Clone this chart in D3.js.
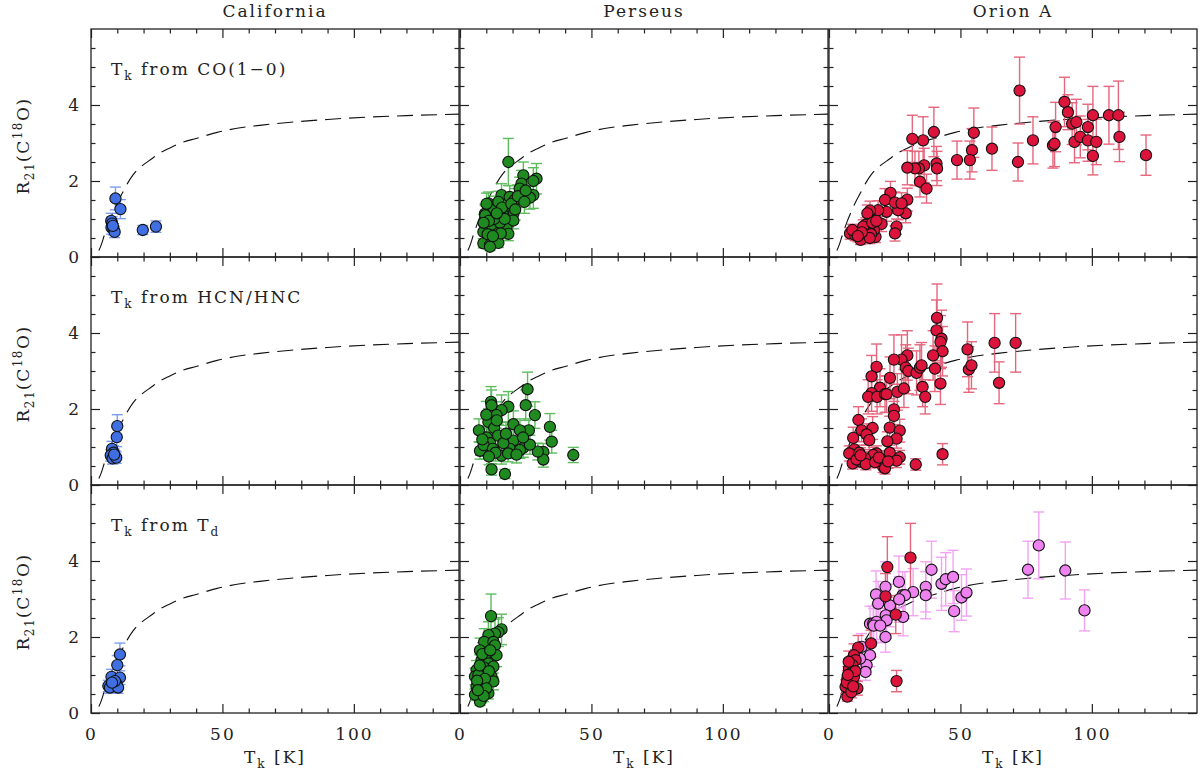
<!DOCTYPE html>
<html>
<head>
<meta charset="utf-8">
<script src="https://cdn.jsdelivr.net/npm/d3@7"></script>
<style>
  body { margin: 0; background: #fff; }
  text { font-family: "DejaVu Serif", serif; fill: #222; }
</style>
</head>
<body>
<svg width="1200" height="773"></svg>
<script>
// columns / rows
const clouds = ['California', 'Perseus', 'Orion A']
const methods = [['CO(1\u22120)'], ['HCN/HNC'], ['T', 'd']]

// model curve
const modelT = [3, 4, 5, 6, 7, 8, 9, 10, 12, 14, 16, 18, 20, 23, 26, 30, 35, 40, 48, 55, 65, 75, 90, 105, 120, 140]
const modelR = [0.17, 0.34, 0.56, 0.76, 0.95, 1.12, 1.29, 1.43, 1.69, 1.95, 2.16, 2.32, 2.43, 2.58, 2.73, 2.87, 3.02, 3.12, 3.28, 3.38, 3.47, 3.54, 3.62, 3.68, 3.72, 3.76]

// [Tk, R21, err]
const caliCO = [[9.3,1.54,0.30],[11.2,1.26,0.25],[7.7,0.95,0.20],[8.0,0.88,0.18],[7.8,0.78,0.18],[8.6,0.73,0.15],[9.0,0.66,0.15],[8.3,0.82,0.15],[19.7,0.71,0.12],[24.7,0.80,0.15]]
const caliHCN = [[10.0,1.55,0.30],[9.8,1.26,0.25],[8.0,0.95,0.20],[8.6,0.85,0.18],[7.5,0.78,0.15],[9.2,0.75,0.15],[8.2,0.70,0.15],[9.6,0.72,0.15],[8.8,0.80,0.15]]
const caliTd = [[11.0,1.54,0.30],[10.0,1.26,0.25],[7.8,0.95,0.20],[11.0,0.93,0.18],[6.6,0.71,0.15],[7.2,0.67,0.15],[9.7,0.77,0.15],[10.3,0.67,0.15],[9.1,0.84,0.15],[8.0,0.80,0.15]]

const perCO = [[18.4,2.50,0.62],[24.1,2.15,0.35],[29.1,2.06,0.40],[27.9,2.00,0.35],[23.4,1.93,0.35],[22.7,1.80,0.30],[27.9,1.63,0.35],[26.6,1.56,0.30],[15.8,1.63,0.30],[18.9,1.58,0.30],
  [20.8,1.50,0.30],[10.8,1.41,0.30],[13.3,1.32,0.28],[17.1,1.23,0.25],[20.3,1.14,0.25],[9.5,1.14,0.25],[12.0,1.05,0.22],[14.6,0.96,0.22],[17.7,0.79,0.20],[10.1,0.79,0.20],
  [13.3,0.70,0.18],[8.9,0.66,0.18],[13.9,0.44,0.15],[8.9,0.36,0.12],[11.4,0.32,0.12],[18.4,0.61,0.18],[16.5,1.10,0.25],[20.3,0.96,0.22],[12.7,1.23,0.25],[14.6,1.45,0.28],
  [10.1,1.40,0.28],[9.6,1.10,0.25],[14.6,0.37,0.12],[11.4,0.27,0.10],[12.0,0.85,0.20],[15.2,0.90,0.22],[13.0,1.00,0.22],[11.0,0.95,0.22],[16.0,1.30,0.28],[19.5,1.40,0.30],
  [22.0,1.60,0.30],[25.0,1.75,0.32],[21.0,1.25,0.28],[24.5,1.45,0.30],[10.5,0.60,0.18],[15.5,0.62,0.18],[12.5,0.55,0.15],[9.0,0.90,0.22],[17.0,1.00,0.22],[14.0,1.15,0.25]]
const perHCN = [[25.7,2.52,0.45],[25.0,2.10,0.40],[28.5,1.84,0.35],[34.2,1.53,0.35],[34.9,1.14,0.30],[43.1,0.79,0.20],[31.7,0.87,0.22],[31.7,0.67,0.20],[29.6,0.88,0.22],[26.2,1.44,0.30],
  [20.3,1.60,0.35],[18.4,2.06,0.40],[15.8,1.97,0.40],[11.8,2.19,0.40],[12.0,2.10,0.40],[13.9,1.84,0.35],[7.2,1.44,0.30],[10.8,1.66,0.35],[10.2,1.25,0.30],[12.0,0.41,0.15],
  [17.1,0.29,0.12],[22.8,1.44,0.30],[20.3,1.17,0.28],[24.1,0.98,0.25],[19.0,0.95,0.25],[15.8,0.77,0.22],[9.5,0.90,0.22],[7.6,0.90,0.22],[18.3,0.83,0.22],[26.6,1.06,0.25],
  [22.8,0.92,0.22],[13.0,1.50,0.30],[14.5,1.30,0.30],[11.5,1.10,0.28],[9.0,1.05,0.25],[16.5,1.10,0.28],[12.5,0.95,0.25],[14.0,1.70,0.35],[10.0,1.85,0.35],[17.5,1.35,0.30],
  [8.5,1.20,0.28],[13.5,0.85,0.22],[11.0,0.75,0.22],[21.5,0.80,0.22],[24.0,1.25,0.30]]
const perTd = [[11.8,2.55,0.58],[15.8,2.20,0.40],[14.6,2.13,0.38],[13.3,2.09,0.38],[10.8,2.05,0.35],[9.2,1.87,0.35],[12.7,1.87,0.35],[13.3,1.78,0.35],[7.6,1.65,0.32],[10.1,1.57,0.32],
  [13.9,1.52,0.30],[8.2,1.39,0.30],[10.8,1.30,0.28],[12.7,1.22,0.28],[6.3,1.13,0.25],[9.5,1.04,0.25],[12.0,0.96,0.25],[5.7,0.96,0.22],[7.6,0.87,0.22],[10.1,0.79,0.20],
  [12.7,0.83,0.22],[6.3,0.70,0.18],[8.9,0.61,0.18],[7.0,0.52,0.15],[8.2,0.39,0.12],[7.6,0.30,0.10],[5.7,0.48,0.15],[10.8,0.52,0.15],[9.0,1.20,0.28],[7.0,1.00,0.25],
  [11.0,1.10,0.28],[8.0,0.75,0.20],[9.5,0.90,0.22],[6.5,0.85,0.20],[8.5,1.55,0.30],[11.5,1.65,0.32],[7.5,1.25,0.28],[10.0,0.65,0.18],[9.0,0.45,0.15],[6.8,0.60,0.18]]

const oriCO = [[72.5,4.38,0.88],[89.6,4.08,0.65],[90.9,3.81,0.46],[92.5,3.51,0.55],[94.1,3.55,0.60],[98.5,3.42,0.60],[100.4,3.73,0.76],[106.5,3.73,0.76],[110.1,3.73,0.90],[110.5,3.16,0.65],
  [93.4,3.03,0.55],[95.6,3.16,0.55],[98.5,3.07,0.55],[101.7,3.03,0.60],[100.4,2.66,0.50],[120.6,2.68,0.53],[86.2,3.42,0.65],[85.2,2.94,0.60],[85.8,2.98,0.60],[77.6,3.07,0.62],
  [71.9,2.50,0.50],[62.0,2.85,0.57],[54.4,2.81,0.57],[55.1,3.27,0.65],[53.6,2.55,0.50],[48.7,2.55,0.50],[39.9,3.29,0.65],[35.8,3.07,0.62],[31.7,3.11,0.62],[40.9,2.46,0.45],
  [41.1,2.33,0.45],[36.2,2.41,0.45],[34.2,2.33,0.45],[32.7,2.33,0.45],[29.8,2.35,0.45],[34.6,1.98,0.40],[37.1,1.80,0.38],[29.8,1.51,0.30],[29.2,1.15,0.25],[26.3,1.23,0.25],
  [25.7,0.80,0.20],[25.1,0.62,0.20],[23.4,1.69,0.30],[21.3,1.50,0.30],[25.1,1.43,0.28],[27.6,1.41,0.28],[21.9,1.19,0.25],[18.7,1.23,0.25],[15.6,1.22,0.25],[20.0,0.87,0.20],
  [8.0,0.62,0.15],[9.9,0.58,0.15],[12.0,0.45,0.12],[10.1,0.66,0.15],[13.9,0.62,0.15],[15.2,0.75,0.18],[15.8,0.97,0.20],[14.6,1.15,0.22],[17.7,0.53,0.15],[17.1,0.71,0.18],
  [8.9,0.71,0.15],[14.0,0.85,0.18],[15.0,0.70,0.18],[16.0,0.60,0.15],[13.0,0.80,0.18],[15.5,0.50,0.15],[16.5,0.90,0.20],[12.5,0.65,0.15],[18.0,0.95,0.20],[11.0,0.55,0.15]]
const oriHCN = [[41.1,4.40,0.89],[40.9,4.07,0.80],[42.8,3.85,0.75],[42.4,3.76,0.70],[43.2,3.52,0.65],[39.6,3.41,0.65],[40.3,3.06,0.60],[42.4,2.67,0.55],[43.2,0.81,0.28],[33.0,0.54,0.15],
  [52.7,3.57,0.72],[63.0,3.74,0.77],[71.0,3.74,0.77],[53.2,3.04,0.60],[54.2,3.15,0.62],[64.7,2.69,0.55],[29.8,3.41,0.65],[27.6,3.30,0.65],[24.7,3.30,0.65],[18.1,3.11,0.60],
  [16.2,2.86,0.55],[23.2,2.82,0.55],[29.2,3.09,0.60],[30.2,3.00,0.60],[33.3,2.95,0.58],[34.6,3.09,0.60],[35.2,3.15,0.60],[35.6,2.58,0.52],[36.6,2.32,0.45],[19.4,2.56,0.50],
  [16.2,2.42,0.48],[14.9,2.32,0.45],[18.3,2.32,0.45],[21.3,2.39,0.48],[21.9,2.39,0.48],[26.0,2.45,0.48],[28.5,2.54,0.50],[24.7,1.99,0.40],[24.7,1.82,0.38],[11.2,1.71,0.35],
  [9.2,1.24,0.28],[12.4,1.44,0.30],[16.6,1.50,0.30],[14.3,1.33,0.28],[15.3,1.18,0.25],[23.1,1.51,0.30],[26.9,1.43,0.30],[25.7,1.22,0.25],[22.2,1.15,0.25],[9.6,0.94,0.22],
  [7.7,0.83,0.20],[9.0,0.57,0.15],[12.4,0.61,0.15],[15.6,0.70,0.18],[18.1,0.83,0.20],[20.6,0.48,0.15],[20.0,0.66,0.18],[23.1,0.85,0.20],[26.9,0.73,0.18],[25.7,0.64,0.18],
  [16.8,0.79,0.20],[13.7,0.70,0.18],[10.5,0.67,0.18],[21.3,0.44,0.15],[11.5,0.85,0.20],[14.0,0.55,0.15],[17.5,0.60,0.15],[19.0,0.72,0.18],[22.5,0.62,0.18],[12.0,0.78,0.20]]
// Orion A, Tk from Td: two groups
const oriTdWarm = [[79.8,4.41,0.88],[75.7,3.77,0.75],[89.9,3.75,0.75],[97.2,2.70,0.54],[39.0,3.77,0.75],[42.8,3.40,0.70],[44.4,3.52,0.70],[47.2,3.58,0.70],[36.8,3.32,0.66],[36.8,3.10,0.62],
  [32.0,3.18,0.62],[50.4,3.04,0.60],[52.3,3.17,0.62],[47.6,2.68,0.54],[26.6,3.45,0.68],[21.5,3.32,0.66],[17.9,3.12,0.62],[18.7,2.88,0.58],[23.2,2.83,0.56],[28.0,3.10,0.62],
  [28.9,3.10,0.62],[26.7,2.99,0.60],[28.2,2.53,0.50],[21.6,2.57,0.50],[21.9,2.44,0.48],[21.5,2.00,0.40],[15.6,2.35,0.46],[16.8,2.35,0.46],[18.1,2.40,0.46],[15.6,1.52,0.30],
  [14.3,1.26,0.25],[12.4,1.74,0.35],[11.8,1.43,0.28],[13.9,1.08,0.22],[17.0,2.30,0.45],[19.5,2.30,0.45]]
const oriTd = [[31.0,4.09,0.90],[22.2,3.84,0.80],[21.5,3.07,0.60],[25.4,2.59,0.50],[25.7,0.84,0.28],[16.0,1.83,0.35],[11.1,1.72,0.32],[9.5,1.52,0.30],[10.1,1.39,0.28],[8.9,1.26,0.25],
  [7.6,1.17,0.25],[8.2,1.04,0.22],[7.0,0.91,0.20],[8.9,0.82,0.20],[10.8,0.65,0.18],[7.6,0.60,0.15],[7.0,0.43,0.12],[6.3,0.69,0.18],[8.0,0.75,0.18],[9.5,0.95,0.22],
  [7.5,1.35,0.28],[10.0,1.10,0.25],[6.8,0.80,0.20],[8.5,0.55,0.15],[9.2,0.70,0.18],[7.2,1.00,0.22]]

const blue = { fill: '#3f6fe3', bar: '#6f93ef' }
const green = { fill: '#1f8a1f', bar: '#4db54d' }
const red = { fill: '#dc143c', bar: '#e4566f' }
const violet = { fill: '#ee82ee', bar: '#f29af2' }

// panels[row][col]
const panels = [
  [[{ d: caliCO, c: blue }], [{ d: perCO, c: green }], [{ d: oriCO, c: red }]],
  [[{ d: caliHCN, c: blue }], [{ d: perHCN, c: green }], [{ d: oriHCN, c: red }]],
  [[{ d: caliTd, c: blue }], [{ d: perTd, c: green }], [{ d: oriTdWarm, c: violet }, { d: oriTd, c: red }]]
]

const svg = d3.select('svg')
const colX = [91, 460, 829], rowY = [29, 257, 485]
const pw = 368, ph = 228
const ink = '#222'
const font = '"DejaVu Serif", serif'

const x = d3.scaleLinear().domain([0, 140]).range([0, pw])
const y = d3.scaleLinear().domain([0, 6]).range([ph, 0])

const majX = [0, 50, 100], minX = d3.range(10, 140, 10).filter(v => v % 50)
const majY = [0, 2, 4], minY = d3.range(0.5, 6, 0.5).filter(v => v % 2)

const model = d3.line()
  .x((d, i) => x(modelT[i]))
  .y(d => y(d))
  .curve(d3.curveMonotoneX)

const styleAxis = g => {
  g.attr('font-size', 17).attr('font-family', font).attr('color', ink)
  g.select('.domain').remove()
  g.selectAll('line').attr('stroke-width', 1.2)
  g.selectAll('text').attr('letter-spacing', 2)
}

const addAxis = (g, axisFn, scale, vals, size, fmt, tr) => {
  g.append('g')
    .attr('transform', tr)
    .call(axisFn(scale).tickValues(vals).tickSizeInner(-size).tickSizeOuter(0)
      .tickPadding(axisFn === d3.axisBottom ? 15 : 10).tickFormat(fmt))
    .call(styleAxis)
}

panels.forEach((row, r) => row.forEach((series, c) => {
  const g = svg.append('g').attr('transform', `translate(${colX[c]},${rowY[r]})`)

  // ticks on all four sides, pointing inward
  const fx = r === 2 ? d3.format('d') : () => ''
  const fy = c === 0 ? d3.format('d') : () => ''
  addAxis(g, d3.axisBottom, x, majX, 9, fx, `translate(0,${ph})`)
  addAxis(g, d3.axisBottom, x, minX, 4.5, () => '', `translate(0,${ph})`)
  addAxis(g, d3.axisTop, x, majX, 9, () => '', 'translate(0,0)')
  addAxis(g, d3.axisTop, x, minX, 4.5, () => '', 'translate(0,0)')
  addAxis(g, d3.axisLeft, y, majY, 9, fy, 'translate(0,0)')
  addAxis(g, d3.axisLeft, y, minY, 4.5, () => '', 'translate(0,0)')
  addAxis(g, d3.axisRight, y, majY, 9, () => '', `translate(${pw},0)`)
  addAxis(g, d3.axisRight, y, minY, 4.5, () => '', `translate(${pw},0)`)

  g.append('rect')
    .attr('width', pw).attr('height', ph)
    .attr('fill', 'none').attr('stroke', ink).attr('stroke-width', 1.3)

  g.append('path')
    .attr('d', model(modelR))
    .attr('fill', 'none')
    .attr('stroke', '#111')
    .attr('stroke-width', 1.1)
    .attr('stroke-dasharray', '16,8')

  // error bars under all markers
  series.forEach(s => {
    const eb = g.append('g').attr('stroke', s.c.bar).attr('stroke-width', 1.4).attr('opacity', 0.9)
    eb.selectAll('line.v').data(s.d).enter().append('line')
      .attr('x1', d => x(d[0])).attr('x2', d => x(d[0]))
      .attr('y1', d => y(d[1] - d[2])).attr('y2', d => y(d[1] + d[2]))
    eb.selectAll('line.t').data(s.d).enter().append('line')
      .attr('x1', d => x(d[0]) - 5.5).attr('x2', d => x(d[0]) + 5.5)
      .attr('y1', d => y(d[1] + d[2])).attr('y2', d => y(d[1] + d[2]))
    eb.selectAll('line.b').data(s.d).enter().append('line')
      .attr('x1', d => x(d[0]) - 5.5).attr('x2', d => x(d[0]) + 5.5)
      .attr('y1', d => y(d[1] - d[2])).attr('y2', d => y(d[1] - d[2]))
  })
  series.forEach(s => {
    g.append('g').selectAll('circle').data(s.d).enter().append('circle')
      .attr('cx', d => x(d[0])).attr('cy', d => y(d[1]))
      .attr('r', 5.6)
      .attr('fill', s.c.fill)
      .attr('stroke', '#111').attr('stroke-width', 1.1)
  })

  // method note in the left column
  if (c === 0) {
    const t = g.append('text').attr('x', 20).attr('y', 46)
      .attr('font-size', 17).attr('letter-spacing', 2)
    t.append('tspan').text('T')
    t.append('tspan').attr('dy', 5).attr('font-size', 12).text('k')
    const m = methods[r]
    t.append('tspan').attr('dy', -5).text(' from ' + m[0])
    if (m[1]) t.append('tspan').attr('dy', 5).attr('font-size', 12).text(m[1])
  }

  // y title
  if (c === 0) {
    const t = svg.append('text')
      .attr('transform', `translate(29,${rowY[r] + ph / 2 + 3}) rotate(-90)`)
      .attr('text-anchor', 'middle').attr('font-size', 17).attr('letter-spacing', 1.5)
    t.append('tspan').text('R')
    t.append('tspan').attr('dy', 5).attr('font-size', 12).text('21')
    t.append('tspan').attr('dy', -5).text('(C')
    t.append('tspan').attr('dy', -7).attr('font-size', 12).text('18')
    t.append('tspan').attr('dy', 7).text('O)')
  }

  // column titles / x titles
  if (r === 0) {
    svg.append('text').attr('x', colX[c] + pw / 2).attr('y', 17)
      .attr('text-anchor', 'middle').attr('font-size', 17).attr('letter-spacing', 2)
      .text(clouds[c])
  }
  if (r === 2) {
    const t = svg.append('text').attr('x', colX[c] + pw / 2).attr('y', 763)
      .attr('text-anchor', 'middle').attr('font-size', 17).attr('letter-spacing', 2)
    t.append('tspan').text('T')
    t.append('tspan').attr('dy', 5).attr('font-size', 12).text('k')
    t.append('tspan').attr('dy', -5).text(' [K]')
  }
}))
</script>
</body>
</html>
